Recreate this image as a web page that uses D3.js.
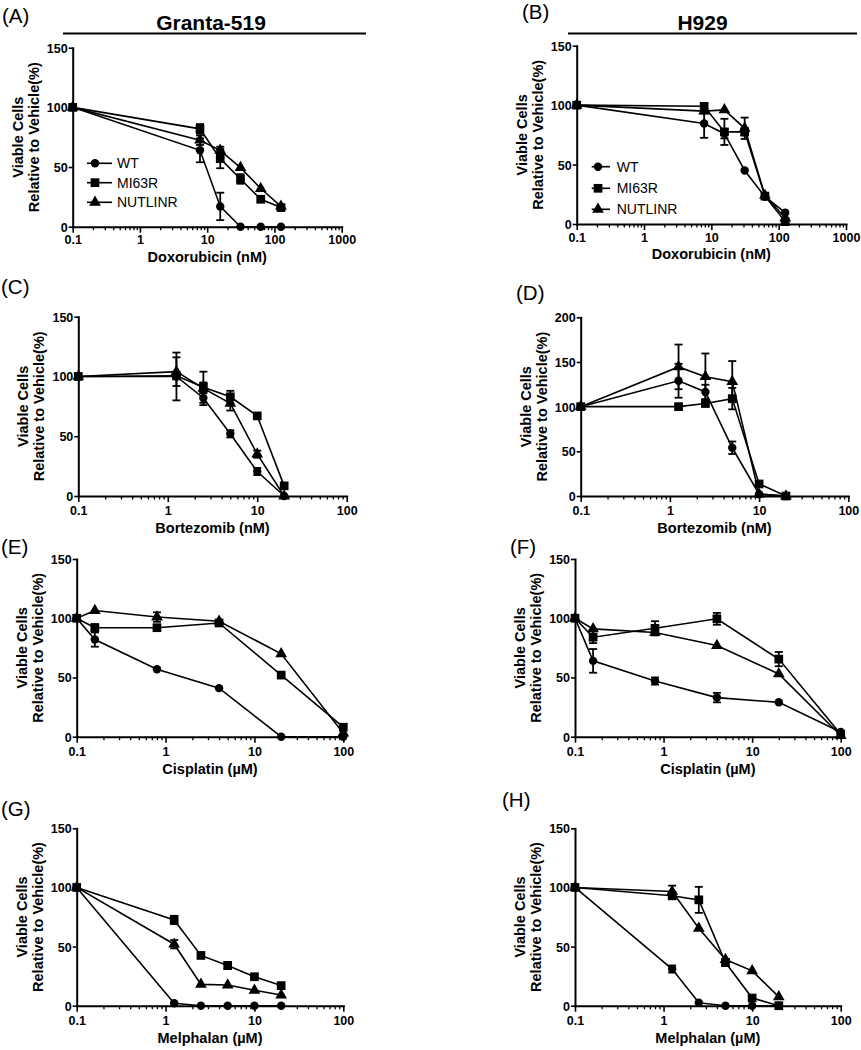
<!DOCTYPE html>
<html><head><meta charset="utf-8">
<script src="https://cdn.jsdelivr.net/npm/d3@7"></script>
<style>
body{margin:0;background:#fff}
svg{display:block}
text{font-family:"Liberation Sans",Arial,Helvetica,sans-serif;fill:#000}
</style>
</head><body>
<svg id="c" width="861" height="1050"></svg>
<script>
// ---------- data ----------
const seriesNames = ["WT", "MI63R", "NUTLINR"];
const cellLines = ["Granta-519", "H929"];
const panelLetters = ["(A)", "(B)", "(C)", "(D)", "(E)", "(F)", "(G)", "(H)"];
const drugLabels = ["Doxorubicin (nM)", "Bortezomib (nM)", "Cisplatin (\u00b5M)", "Melphalan (\u00b5M)"];

const doxDoses = [0.1, 7.8125, 15.625, 31.25, 62.5, 125];
const bortDoses = [0.1, 1.25, 2.5, 5, 10, 20];
const cisDoses = [0.1, 0.16, 0.8, 4, 20, 100];
const melDoses = [0.1, 1.25, 2.5, 5, 10, 20];

const xTicks1000 = [0.1, 1, 10, 100, 1000];
const xTickLabels1000 = ["0.1", "1", "10", "100", "1000"];
const xTicks100 = [0.1, 1, 10, 100];
const xTickLabels100 = ["0.1", "1", "10", "100"];
const yTicks150 = [0, 50, 100, 150];
const yTicks200 = [0, 50, 100, 150, 200];

// (A) Granta-519, Doxorubicin
const aWT = [100, 64, 17, 0, 0, 0];          const aWTerr = [0, 10, 11.5, 0, 0, 0];
const aMI = [100, 82, 57, 40, 23, 16];       const aMIerr = [0, 4, 8, 4, 0, 0];
const aNU = [100, 72.5, 64, 49.5, 32, 17];   const aNUerr = [0, 4, 3, 0, 0, 0];
// (B) H929, Doxorubicin
const bWT = [100, 84.5, 76, 45, 23, 9.5];    const bWTerr = [0, 12, 4, 0, 0, 0];
const bMI = [100, 99, 77.5, 77.5, 23.5, 2];  const bMIerr = [0, 2, 11, 3, 0, 0];
const bNU = [100, 95, 96, 80.5, 24, 5];      const bNUerr = [0, 2, 0, 9, 0, 0];
// (C) Granta-519, Bortezomib
const cWT = [100, 100, 82, 52, 20.5, 0];     const cWTerr = [0, 20, 4, 3, 3, 0];
const cMI = [100, 100.5, 91, 83, 67, 8.5];   const cMIerr = [0, 0, 4, 5, 0, 0];
const cNU = [100, 104, 90, 77.5, 35, 0];     const cNUerr = [0, 12, 14, 6, 3, 0];
// (D) H929, Bortezomib
const dWT = [100, 129, 116.5, 54, 2, 0];     const dWTerr = [0, 19, 8, 7, 0, 0];
const dMI = [100, 100, 103.5, 109, 13.5, 0]; const dMIerr = [0, 0, 0, 12, 0, 0];
const dNU = [100, 144.5, 133.5, 128, 2, 0];  const dNUerr = [0, 25, 26, 23, 0, 0];
// (E) Granta-519, Cisplatin
const eWT = [100, 82, 57, 41, 0, 0];         const eWTerr = [0, 6, 0, 0, 0, 0];
const eMI = [100, 92, 92, 96, 52, 8];        const eMIerr = [0, 3, 0, 0, 0, 0];
const eNU = [100, 106.5, 101, 97.5, 70, 3];  const eNUerr = [0, 0, 4, 0, 0, 0];
// (F) H929, Cisplatin
const fWT = [100, 64, 47, 33, 29, 4];        const fWTerr = [0, 10, 3, 4, 0, 0];
const fMI = [100, 84, 91.5, 99.5, 65.5, 2];  const fMIerr = [0, 5, 6, 5, 6, 0];
const fNU = [100, 91, 88, 77, 53, 1];        const fNUerr = [0, 0, 0, 0, 0, 0];
// (G) Granta-519, Melphalan
const gWT = [100, 2, 0, 0, 0, 0];            const gWTerr = [0, 0, 0, 0, 0, 0];
const gMI = [100, 72.5, 42.5, 34, 24.5, 17]; const gMIerr = [0, 3.5, 0, 3, 0, 0];
const gNU = [100, 52, 18, 17.5, 13, 9];      const gNUerr = [0, 3.5, 0, 0, 0, 0];
// (H) H929, Melphalan
const hWT = [100, 31, 2.5, 0, 0, 0];         const hWTerr = [0, 3, 0, 0, 0, 0];
const hMI = [100, 93, 89.5, 36.5, 6.5, 0];   const hMIerr = [0, 3, 11, 3, 0, 0];
const hNU = [100, 96.5, 65.5, 39, 29.5, 7.5];const hNUerr = [0, 5, 0, 0, 0, 0];

// ---------- layout ----------
const layout = [
  {l: 72.7, r: 341.7, t: 47.7, b: 226.7, lx: 2, ly: 22.5},
  {l: 576.7, r: 846, t: 45.7, b: 224, lx: 522, ly: 19},
  {l: 78.3, r: 346.7, t: 316.7, b: 496, lx: 1, ly: 294},
  {l: 580.7, r: 848.3, t: 317.3, b: 496, lx: 516, ly: 300},
  {l: 76.7, r: 343.3, t: 559, b: 736.7, lx: 1, ly: 554},
  {l: 575, r: 840.7, t: 559, b: 736.7, lx: 510, ly: 554},
  {l: 76.7, r: 343.3, t: 828.3, b: 1005.7, lx: 1, ly: 815.5},
  {l: 575, r: 840.7, t: 828.3, b: 1005.7, lx: 502, ly: 807}
];

const panels = [
  {doses: doxDoses, drug: 0, xT: xTicks1000, xL: xTickLabels1000, yT: yTicks150, vals: [aWT, aMI, aNU], errs: [aWTerr, aMIerr, aNUerr], legend: {mx: 95, x1: 87, x2: 112, tx: 117, ys: [163.3, 182.7, 202.3]}},
  {doses: doxDoses, drug: 0, xT: xTicks1000, xL: xTickLabels1000, yT: yTicks150, vals: [bWT, bMI, bNU], errs: [bWTerr, bMIerr, bNUerr], legend: {mx: 598, x1: 591.7, x2: 610, tx: 616.7, ys: [166.7, 188.3, 209.3]}},
  {doses: bortDoses, drug: 1, xT: xTicks100, xL: xTickLabels100, yT: yTicks150, vals: [cWT, cMI, cNU], errs: [cWTerr, cMIerr, cNUerr]},
  {doses: bortDoses, drug: 1, xT: xTicks100, xL: xTickLabels100, yT: yTicks200, vals: [dWT, dMI, dNU], errs: [dWTerr, dMIerr, dNUerr]},
  {doses: cisDoses, drug: 2, xT: xTicks100, xL: xTickLabels100, yT: yTicks150, vals: [eWT, eMI, eNU], errs: [eWTerr, eMIerr, eNUerr]},
  {doses: cisDoses, drug: 2, xT: xTicks100, xL: xTickLabels100, yT: yTicks150, vals: [fWT, fMI, fNU], errs: [fWTerr, fMIerr, fNUerr]},
  {doses: melDoses, drug: 3, xT: xTicks100, xL: xTickLabels100, yT: yTicks150, vals: [gWT, gMI, gNU], errs: [gWTerr, gMIerr, gNUerr]},
  {doses: melDoses, drug: 3, xT: xTicks100, xL: xTickLabels100, yT: yTicks150, vals: [hWT, hMI, hNU], errs: [hWTerr, hMIerr, hNUerr]}
];

const symbolTypes = [d3.symbolCircle, d3.symbolSquare, d3.symbolTriangle];
const symbolSizes = [56, 76, 60];

const svg = d3.select("#c");

// column headers
const headers = [{cx: 211, x1: 63, x2: 366}, {cx: 702.5, x1: 568, x2: 857}];
headers.forEach((h, i) => {
  svg.append("text").attr("x", h.cx).attr("y", 30).attr("text-anchor", "middle")
    .attr("font-size", 21).attr("font-weight", "bold").text(cellLines[i]);
  svg.append("line").attr("x1", h.x1).attr("x2", h.x2).attr("y1", 33.5).attr("y2", 33.5)
    .attr("stroke", "#000").attr("stroke-width", 2);
});

panels.forEach((p, pi) => {
  const L = layout[pi];
  const xmax = p.xT[p.xT.length - 1];
  const ymax = p.yT[p.yT.length - 1];
  const x = d3.scaleLog().domain([0.1, xmax]).range([L.l, L.r]);
  const y = d3.scaleLinear().domain([0, ymax]).range([L.b, L.t]);
  const g = svg.append("g");

  // panel letter
  g.append("text").attr("x", L.lx).attr("y", L.ly).attr("font-size", 20.5).text(panelLetters[pi]);

  // minor x ticks
  const minors = [];
  for (let e = -1; e < Math.log10(xmax) - 0.01; e++) {
    for (let k = 2; k <= 9; k++) minors.push(k * Math.pow(10, e));
  }
  g.append("g").attr("transform", `translate(0,${L.b})`)
    .call(d3.axisBottom(x).tickValues(minors).tickSize(3.5).tickSizeOuter(0).tickFormat(""))
    .call(s => s.select(".domain").remove())
    .call(s => s.selectAll("line").attr("stroke", "#000").attr("stroke-width", 1.3));

  // major x axis
  g.append("g").attr("transform", `translate(0,${L.b})`)
    .call(d3.axisBottom(x).tickValues(p.xT).tickSize(6).tickSizeOuter(0).tickFormat((d, i) => p.xL[i]))
    .call(s => s.select(".domain").attr("stroke", "#000").attr("stroke-width", 2).attr("stroke-linecap", "square"))
    .call(s => s.selectAll(".tick line").attr("stroke", "#000").attr("stroke-width", 1.6))
    .call(s => s.selectAll(".tick text").attr("y", pi < 2 ? 17.5 : 19).attr("dy", 0).attr("fill", "#000")
      .attr("font-size", 12.5).attr("font-weight", "bold").attr("font-family", "Liberation Sans, Arial, sans-serif"));

  // y axis
  g.append("g").attr("transform", `translate(${L.l},0)`)
    .call(d3.axisLeft(y).tickValues(p.yT).tickSize(4).tickSizeOuter(0))
    .call(s => s.select(".domain").attr("stroke", "#000").attr("stroke-width", 2).attr("stroke-linecap", "square"))
    .call(s => s.selectAll(".tick line").attr("stroke", "#000").attr("stroke-width", 1.6))
    .call(s => s.selectAll(".tick text").attr("x", -5).attr("dy", "0.36em").attr("fill", "#000")
      .attr("font-size", 12.5).attr("font-weight", "bold").attr("font-family", "Liberation Sans, Arial, sans-serif"));

  // x axis title
  g.append("text").attr("x", (L.l + L.r) / 2).attr("y", L.b + (pi < 2 ? 35 : 37)).attr("text-anchor", "middle")
    .attr("font-size", 14.5).attr("font-weight", "bold").text(drugLabels[p.drug]);

  // y axis title (two lines)
  const cy = (L.t + L.b) / 2;
  g.append("text").attr("transform", `translate(${L.l - 50},${cy}) rotate(-90)`).attr("text-anchor", "middle")
    .attr("font-size", 14.5).attr("font-weight", "bold").text("Viable Cells");
  g.append("text").attr("transform", `translate(${L.l - 34},${cy}) rotate(-90)`).attr("text-anchor", "middle")
    .attr("font-size", 14.5).attr("font-weight", "bold").text("Relative to Vehicle(%)");

  const line = d3.line().x(d => x(d[0])).y(d => y(d[1]));

  p.vals.forEach((vals, si) => {
    const pts = p.doses.map((d, i) => [d, vals[i], p.errs[si][i]]);
    g.append("path").datum(pts).attr("d", line).attr("fill", "none")
      .attr("stroke", "#000").attr("stroke-width", 1.6);
    // error bars
    pts.filter(d => d[2] > 0).forEach(d => {
      const xx = x(d[0]), y1 = y(d[1] - d[2]), y2 = y(d[1] + d[2]);
      g.append("line").attr("x1", xx).attr("x2", xx).attr("y1", y1).attr("y2", y2)
        .attr("stroke", "#000").attr("stroke-width", 1.8);
      [y1, y2].forEach(yy => g.append("line").attr("x1", xx - 4).attr("x2", xx + 4)
        .attr("y1", yy).attr("y2", yy).attr("stroke", "#000").attr("stroke-width", 1.8));
    });
    // markers
    g.selectAll(null).data(pts).enter().append("path")
      .attr("transform", d => `translate(${x(d[0])},${y(d[1])})`)
      .attr("d", d3.symbol().type(symbolTypes[si]).size(symbolSizes[si]))
      .attr("fill", "#000");
  });

  // legend
  if (p.legend) {
    const lg = p.legend;
    seriesNames.forEach((name, si) => {
      const yy = lg.ys[si];
      g.append("line").attr("x1", lg.x1).attr("x2", lg.x2).attr("y1", yy).attr("y2", yy)
        .attr("stroke", "#000").attr("stroke-width", 1.6);
      g.append("path").attr("transform", `translate(${lg.mx},${yy})`)
        .attr("d", d3.symbol().type(symbolTypes[si]).size(symbolSizes[si])).attr("fill", "#000");
      g.append("text").attr("x", lg.tx).attr("y", yy + 5).attr("font-size", 14).text(name);
    });
  }
});
</script>
</body></html>
